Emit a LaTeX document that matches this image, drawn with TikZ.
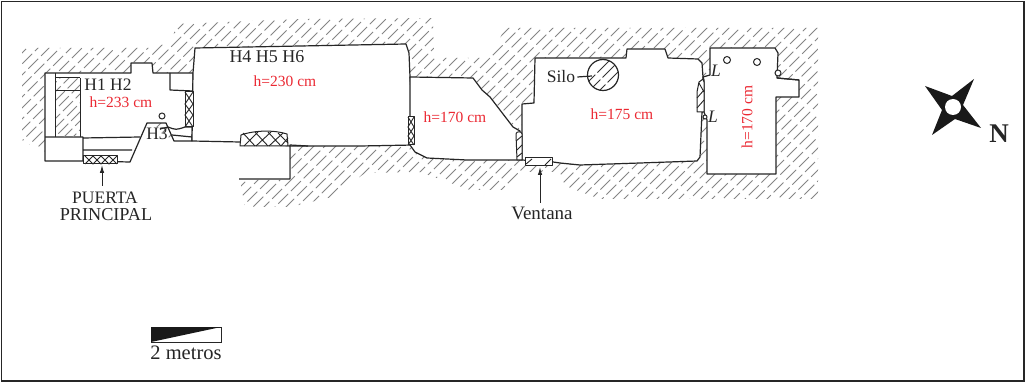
\documentclass[tikz,border=0pt]{standalone}
\usepackage{fontspec}
\setmainfont{Liberation Serif}
\definecolor{redlab}{RGB}{235,40,50}
\usetikzlibrary{arrows.meta}
\tikzset{
  wall/.style={draw=black!85,line width=1.2pt,fill=white,line join=round},
  doorw/.style={draw=black!85,line width=1pt,fill=white,line join=round},
  ln/.style={draw=black!85,line width=1.2pt,line join=round},
  thin/.style={draw=black!85,line width=1pt},
  hatchline/.style={draw=black!48,line width=0.8pt},
  hatchfine/.style={draw=black!85,line width=0.9pt},
  lab/.style={inner sep=0pt,text=black!85,font=\fontsize{17.5}{19}\selectfont},
  redl/.style={inner sep=0pt,text=redlab,font=\fontsize{15.5}{17}\selectfont},
  arr/.style={draw=black!85,line width=1pt,-{Latex[length=8pt,width=4.5pt]}}
}
\begin{document}
\begin{tikzpicture}[x=1pt,y=-1pt]
\useasboundingbox (0,0) rectangle (1026,382);
\fill[white] (0,0) rectangle (1026,382);
\draw[draw=black!85,line width=1.2pt] (1.5,1.5) rectangle (1024,381);
% hatched ground
\begin{scope}
\clip (22,48) -- (150,48) -- (172,42) -- (176,24) -- (300,19) -- (433,18) -- (434,58) -- (490,58) -- (505,28) -- (818,28) -- (818,199) -- (600,199) -- (565,186) -- (560,172) -- (520,172) -- (505,190) -- (470,190) -- (420,172) -- (365,173) -- (332,197) -- (290,207) -- (245,207) -- (240,180) -- (290,180) -- (290,145) -- (240,141) -- (174,141) -- (147,123) -- (45,120) -- (45,153) -- (22,140) -- cycle;
\foreach \k [count=\i] in {-200,-189,...,1000} {
  \pgfmathsetmacro{\ph}{mod(\i*7,18)}
  \draw[hatchline,dash pattern=on 14pt off 4pt,dash phase=\ph pt] (\k,220) -- (\k+210,10);
}
\end{scope}
% room 1
\path[wall] (45,73) -- (131,73) -- (131,63) -- (152,63) -- (153,73) -- (193,73) -- (192,141) -- (174,141) -- (166,123) -- (147,123) -- (130,162) -- (83,161) -- (45,161) -- cycle;
\path[ln] (83,137) -- (83,161) (45,137) -- (83,137) (83,138) -- (140,137) (83,150) -- (132,150);
\path[ln] (170,73) -- (170,90) -- (193,91);
\begin{scope}
\clip (55,78) rectangle (80,137);
\foreach \k [count=\i] in {-20,-11,...,120} {
  \pgfmathsetmacro{\ph}{mod(\i*7,18)}
  \draw[hatchline,dash pattern=on 14pt off 4pt,dash phase=\ph pt] (\k,140) -- (\k+70,70);
}
\end{scope}
\path[thin] (55,73) -- (55,137) (80,78) -- (80,137) (55,78) -- (80,78) (55,91) -- (80,91);
\path[ln] (168,127) .. controls (176,130) .. (185,127) -- (192,127) (160,129) -- (168,127) (172,135) -- (192,137);
\draw[thin,fill=white] (162,116) circle (3);
% room 2
\path[wall] (195,48) -- (406,44) -- (409,53) -- (410,77) -- (413,117) -- (414,145) -- (360,146) -- (290,146) -- (240,142) -- (192,141) -- (193,73) -- cycle;
\path[ln] (239,179) -- (290,179) -- (290,145) -- (308,146);
\fill[white] (241,143.5) -- (289,147.5) -- (289,178) -- (241,178) -- cycle;
% room 3
\path[wall] (410,77) -- (473,78) -- (482,90) -- (490,97) -- (513,127) -- (520,131) -- (522,160) -- (467,160) -- (427,158) -- (415,152) -- (410,145) -- cycle;
% room 4
\path[wall] (522,130) -- (522,104) -- (534,103) -- (535,58) -- (626,58) -- (627,49) -- (665,49) -- (668,58) -- (698,59) -- (702,63) -- (703,77) -- (703,112) -- (702,112) -- (700,157) -- (697,161) -- (640,163) -- (580,165) -- (560,163) -- (553,162) -- (522,160) -- cycle;
% room 5
\path[wall] (710,48) -- (775,48) -- (778,53) -- (777,78) -- (799,80) -- (799,97) -- (776,97) -- (776,174) -- (707,174) -- (707,120) -- (704,112) -- (704,80) -- (703,77) -- (710,75) -- cycle;
\draw[thin,fill=white] (727,60) circle (3.5) (757,62) circle (3.5) (705,117) circle (2);
\draw[thin,fill=white] (778,73) circle (3);
\path[ln] (777,78) -- (799,80);
% doors (cross-hatched)
\draw[doorw] (185,92) rectangle (193,127);
\path[hatchfine] (185,92) -- (193,104) -- (185,115) -- (193,127) (193,92) -- (185,104) -- (193,115) -- (185,127);
\draw[doorw] (83,156) rectangle (117,164);
\path[hatchfine] (85,156) -- (93,164) -- (101,156) -- (109,164) -- (117,156) (85,164) -- (93,156) -- (101,164) -- (109,156) -- (117,164);
\draw[doorw] (240,146) -- (241,135) .. controls (255,130) and (275,130) .. (287,134) -- (288,146) -- cycle;
\path[hatchfine] (243,133) -- (255,146) (255,132) -- (268,146) (268,132) -- (281,146) (278,133) -- (288,143) (244,146) -- (258,132) (256,146) -- (271,132) (269,146) -- (283,133) (281,146) -- (288,138);
\draw[doorw] (408,117) rectangle (414,145);
\path[hatchfine] (408,117) -- (414,127) -- (408,136) -- (414,145) (414,117) -- (408,127) -- (414,136) -- (408,145);
\draw[doorw] (516,134) .. controls (516,131) and (522,131) .. (522,134) -- (522,160) -- (517,160) -- cycle;
\path[hatchfine] (516,141) -- (522,136) (517,150) -- (522,145) (517,157) -- (522,153);
\draw[doorw] (525,158) rectangle (552,166);
\path[hatchfine] (526,164) -- (532,159) (545,165) -- (551,159);
\draw[doorw] (699,82) -- (703,79) -- (704,82) -- (704,112) -- (697,112) -- (697,92) -- cycle;
\path[hatchfine] (697,98) -- (704,90) (697,108) -- (704,100) (699,83) -- (704,92);
% silo
\begin{scope}
\clip (603,75) circle (15.5);
\foreach \k [count=\i] in {560,570,...,640} {
  \pgfmathsetmacro{\ph}{mod(\i*7,20)}
  \draw[draw=black!80,line width=0.9pt,dash pattern=on 17pt off 3pt,dash phase=\ph pt] (\k,110) -- (\k+60,50);
}
\end{scope}
\draw[draw=black!85,line width=1.2pt] (603,75) circle (15.5);
\coordinate (silohit) at (592,76);
% compass
\fill[black!90] (925,86) -- (952,96) -- (974,79) -- (963,105) -- (981,128) -- (955,119) -- (932,135) -- (942,110) -- cycle;
\fill[white] (953,107) circle (8);
\node[lab,font=\fontsize{27}{29}\bfseries\selectfont] (nn) at (999,134) {N};
% scale
\draw[draw=black!85,line width=0.9pt] (151,327) rectangle (221,342);
\fill[black!90] (151,327) -- (221,327) -- (151,342) -- cycle;
\node[lab,font=\fontsize{20.5}{22}\selectfont] (sc) at (186,353) {2 metros};
% labels
\node[lab] (h12) at (108,85) {H1 H2};
\node[lab] (h3) at (157,133.5) {H3};
\node[lab,font=\fontsize{18}{20}\selectfont] (h456) at (267,57) {H4 H5 H6};
\node[redl] (a1) at (121,102) {h=233 cm};
\node[redl] (a2) at (285,81) {h=230 cm};
\node[redl] (a3) at (455,117) {h=170 cm};
\node[redl] (a4) at (622,114) {h=175 cm};
\node[redl,rotate=90] (a5) at (747,117) {h=170 cm};
\node[lab] (silo) at (561,77) {Silo};
\draw[draw=black!85,line width=1.2pt] (silo.east) ++(2,0) -- (silohit);
\node[lab] (L1) at (716,71) {\itshape L};
\node[lab] (L2) at (713,117) {\itshape L};
\node[lab] (p1) at (105,198) {PUERTA};
\node[lab,font=\fontsize{18.2}{20}\selectfont] (p2) at (106,215) {PRINCIPAL};
\node[lab,font=\fontsize{19}{21}\selectfont] (v) at (542,213) {Ventana};
\coordinate (puertadoor) at (102,165);
\coordinate (ventdoor) at (540,167);
\draw[arr] (102,186) -- (puertadoor);
\draw[arr] (540,203) -- (ventdoor);
\end{tikzpicture}
\end{document}
